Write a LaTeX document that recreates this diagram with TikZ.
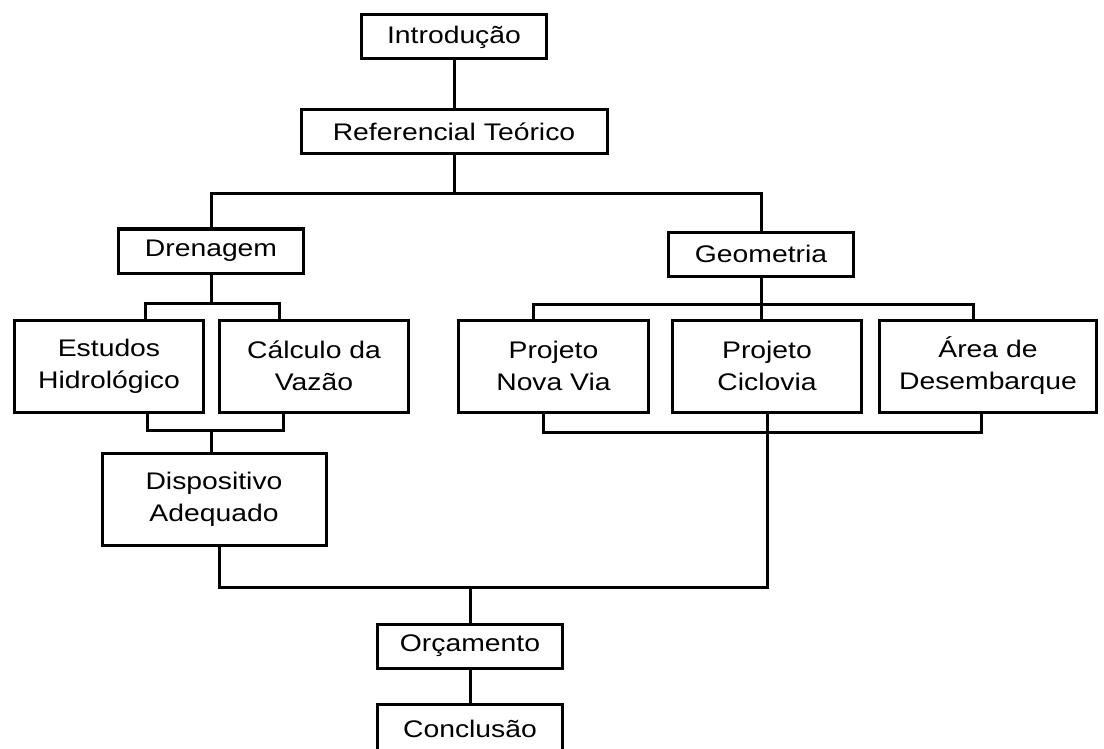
\documentclass[tikz,border=0pt]{standalone}
\usepackage{fontspec}
\setmainfont{Liberation Sans}[FakeStretch=1.18]
\usetikzlibrary{positioning}

\begin{document}
\begin{tikzpicture}[
x=1pt, y=-1pt,
box/.style={draw,
rectangle,
line width=3pt,
minimum width=185pt,
minimum height=44pt,
inner sep=0pt,
align=center,
font=\fontsize{24}{32}\selectfont},
tallbox/.style={box, minimum width=189pt, minimum height=92pt},
line/.style={line width=3pt}
]
\useasboundingbox (0,0) rectangle (1104,749);

\node[box] (intro) at (454,37) {Introdução};
\node[box, minimum width=306pt, below=48pt of intro] (ref) {Referencial Teórico};

\node[tallbox] (estudos) at (109,366) {Estudos\\Hidrológico};
\node[tallbox, right=13pt of estudos] (calculo) {Cálculo da\\Vazão};
\node[tallbox, minimum width=190pt, right=47pt of calculo] (novavia) {Projeto\\Nova Via};
\node[tallbox, right=21pt of novavia] (ciclovia) {Projeto\\Ciclovia};
\node[tallbox, minimum width=217pt, right=15pt of ciclovia] (area) {Área de\\Desembarque};

\node[box, above=44pt of estudos.north east, xshift=6pt] (drenagem) {Drenagem};
\node[box, above=41pt of ciclovia, xshift=-6pt] (geometria) {Geometria};
\node[tallbox, minimum width=224pt, below=38pt of estudos.south east, xshift=9pt] (dispositivo) {Dispositivo\\Adequado};

\node[box] (orcamento) at (470,646) {Orçamento};
\node[box, minimum height=50pt, below=33pt of orcamento] (conclusao) {Conclusão};

% tronco
\coordinate (topsplit) at (ref |- 0,194);
\draw[line] (intro) -- (ref);
\draw[line] (ref) -- (topsplit);
\draw[line] (drenagem) |- (topsplit) -| (geometria);

% drenagem
\coordinate (drensplit) at (drenagem |- 0,303);
\coordinate (drenjoin) at (drenagem |- 0,430);
\draw[line] (drenagem) -- (drensplit);
\draw[line] ([xshift=36pt]estudos.north) |- (drensplit) -| ([xshift=-35pt]calculo.north);
\draw[line] ([xshift=38pt]estudos.south) |- (drenjoin) -| ([xshift=-31pt]calculo.south);
\draw[line] (drenjoin) -- (drenjoin |- dispositivo.north);

% geometria
\coordinate (geosplit) at (geometria |- 0,304);
\coordinate (geojoin) at (ciclovia |- 0,432);
\draw[line] (geometria) -- (geometria |- ciclovia.north);
\draw[line] ([xshift=-20pt]novavia.north) |- (geosplit) -| ([xshift=-15pt]area.north);
\draw[line] ([xshift=-10pt]novavia.south) |- (geojoin) -| ([xshift=-7pt]area.south);

% final
\coordinate (finaljoin) at (orcamento |- 0,587);
\draw[line] ([xshift=5pt]dispositivo.south) |- (finaljoin) -| (ciclovia.south);
\draw[line] (finaljoin) -- (orcamento);
\draw[line] (orcamento) -- (conclusao);

\end{tikzpicture}
\end{document}
